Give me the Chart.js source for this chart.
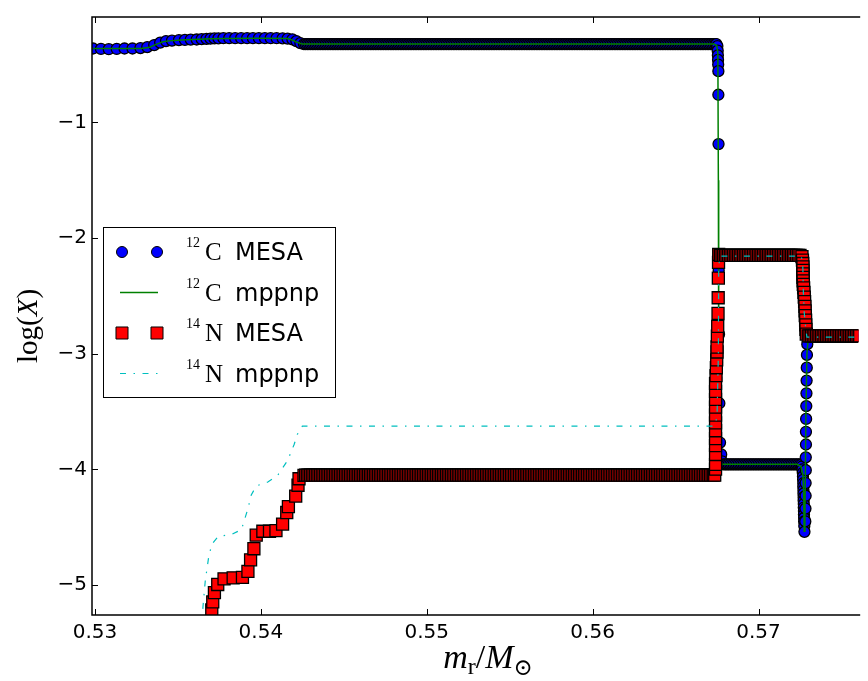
<!DOCTYPE html>
<html>
<head>
    <title>12C and 14N profiles</title>
    <script src="https://cdn.jsdelivr.net/npm/chart.js"></script>
    <style>
        html, body {
            margin: 0;
            padding: 0;
            background: #fff;
            overflow: hidden;
        }
        #chartContainer {
            position: relative;
            width: 868px;
            height: 681px;
        }
    </style>
</head>
<body>
    <div id="chartContainer">
        <canvas id="myChart"></canvas>
    </div>

    <script>
        // 12C from the MESA model: [mass coordinate (Msun), log mass fraction]
        const c12Mesa = [
            [0.52988, -0.361], [0.53036, -0.365], [0.53083, -0.367], [0.53131, -0.365], [0.53178, -0.361],
            [0.53226, -0.361], [0.53274, -0.357], [0.53315, -0.349], [0.53357, -0.331], [0.53393, -0.310],
            [0.53428, -0.297], [0.53464, -0.293], [0.53506, -0.289], [0.53542, -0.287], [0.53577, -0.284],
            [0.53613, -0.283], [0.53643, -0.280], [0.53672, -0.278], [0.53696, -0.276], [0.53720, -0.274],
            [0.53744, -0.273], [0.53774, -0.272], [0.53809, -0.272], [0.53845, -0.272], [0.53881, -0.272],
            [0.53917, -0.272], [0.53952, -0.272], [0.53988, -0.272], [0.54024, -0.272], [0.54059, -0.272],
            [0.54095, -0.272], [0.54131, -0.273], [0.54161, -0.275], [0.54190, -0.282], [0.54214, -0.297],
            [0.54238, -0.314],
            // intershell plateau
            [0.5426, -0.323], [0.5427, -0.323], [0.5428, -0.323], [0.5429, -0.323], [0.5430, -0.323], [0.5431, -0.323], [0.5432, -0.323], [0.5433, -0.323], [0.5434, -0.323], [0.5435, -0.323],
            [0.5436, -0.323], [0.5437, -0.323], [0.5438, -0.323], [0.5439, -0.323], [0.5440, -0.323], [0.5441, -0.323], [0.5442, -0.323], [0.5443, -0.323], [0.5444, -0.323], [0.5445, -0.323],
            [0.5446, -0.323], [0.5447, -0.323], [0.5448, -0.323], [0.5449, -0.323], [0.5450, -0.323], [0.5451, -0.323], [0.5452, -0.323], [0.5453, -0.323], [0.5454, -0.323], [0.5455, -0.323],
            [0.5456, -0.323], [0.5457, -0.323], [0.5458, -0.323], [0.5459, -0.323], [0.5460, -0.323], [0.5461, -0.323], [0.5462, -0.323], [0.5463, -0.323], [0.5464, -0.323], [0.5465, -0.323],
            [0.5466, -0.323], [0.5467, -0.323], [0.5468, -0.323], [0.5469, -0.323], [0.5470, -0.323], [0.5471, -0.323], [0.5472, -0.323], [0.5473, -0.323], [0.5474, -0.323], [0.5475, -0.323],
            [0.5476, -0.323], [0.5477, -0.323], [0.5478, -0.323], [0.5479, -0.323], [0.5480, -0.323], [0.5481, -0.323], [0.5482, -0.323], [0.5483, -0.323], [0.5484, -0.323], [0.5485, -0.323],
            [0.5486, -0.323], [0.5487, -0.323], [0.5488, -0.323], [0.5489, -0.323], [0.5490, -0.323], [0.5491, -0.323], [0.5492, -0.323], [0.5493, -0.323], [0.5494, -0.323], [0.5495, -0.323],
            [0.5496, -0.323], [0.5497, -0.323], [0.5498, -0.323], [0.5499, -0.323], [0.5500, -0.323], [0.5501, -0.323], [0.5502, -0.323], [0.5503, -0.323], [0.5504, -0.323], [0.5505, -0.323],
            [0.5506, -0.323], [0.5507, -0.323], [0.5508, -0.323], [0.5509, -0.323], [0.5510, -0.323], [0.5511, -0.323], [0.5512, -0.323], [0.5513, -0.323], [0.5514, -0.323], [0.5515, -0.323],
            [0.5516, -0.323], [0.5517, -0.323], [0.5518, -0.323], [0.5519, -0.323], [0.5520, -0.323], [0.5521, -0.323], [0.5522, -0.323], [0.5523, -0.323], [0.5524, -0.323], [0.5525, -0.323],
            [0.5526, -0.323], [0.5527, -0.323], [0.5528, -0.323], [0.5529, -0.323], [0.5530, -0.323], [0.5531, -0.323], [0.5532, -0.323], [0.5533, -0.323], [0.5534, -0.323], [0.5535, -0.323],
            [0.5536, -0.323], [0.5537, -0.323], [0.5538, -0.323], [0.5539, -0.323], [0.5540, -0.323], [0.5541, -0.323], [0.5542, -0.323], [0.5543, -0.323], [0.5544, -0.323], [0.5545, -0.323],
            [0.5546, -0.323], [0.5547, -0.323], [0.5548, -0.323], [0.5549, -0.323], [0.5550, -0.323], [0.5551, -0.323], [0.5552, -0.323], [0.5553, -0.323], [0.5554, -0.323], [0.5555, -0.323],
            [0.5556, -0.323], [0.5557, -0.323], [0.5558, -0.323], [0.5559, -0.323], [0.5560, -0.323], [0.5561, -0.323], [0.5562, -0.323], [0.5563, -0.323], [0.5564, -0.323], [0.5565, -0.323],
            [0.5566, -0.323], [0.5567, -0.323], [0.5568, -0.323], [0.5569, -0.323], [0.5570, -0.323], [0.5571, -0.323], [0.5572, -0.323], [0.5573, -0.323], [0.5574, -0.323], [0.5575, -0.323],
            [0.5576, -0.323], [0.5577, -0.323], [0.5578, -0.323], [0.5579, -0.323], [0.5580, -0.323], [0.5581, -0.323], [0.5582, -0.323], [0.5583, -0.323], [0.5584, -0.323], [0.5585, -0.323],
            [0.5586, -0.323], [0.5587, -0.323], [0.5588, -0.323], [0.5589, -0.323], [0.5590, -0.323], [0.5591, -0.323], [0.5592, -0.323], [0.5593, -0.323], [0.5594, -0.323], [0.5595, -0.323],
            [0.5596, -0.323], [0.5597, -0.323], [0.5598, -0.323], [0.5599, -0.323], [0.5600, -0.323], [0.5601, -0.323], [0.5602, -0.323], [0.5603, -0.323], [0.5604, -0.323], [0.5605, -0.323],
            [0.5606, -0.323], [0.5607, -0.323], [0.5608, -0.323], [0.5609, -0.323], [0.5610, -0.323], [0.5611, -0.323], [0.5612, -0.323], [0.5613, -0.323], [0.5614, -0.323], [0.5615, -0.323],
            [0.5616, -0.323], [0.5617, -0.323], [0.5618, -0.323], [0.5619, -0.323], [0.5620, -0.323], [0.5621, -0.323], [0.5622, -0.323], [0.5623, -0.323], [0.5624, -0.323], [0.5625, -0.323],
            [0.5626, -0.323], [0.5627, -0.323], [0.5628, -0.323], [0.5629, -0.323], [0.5630, -0.323], [0.5631, -0.323], [0.5632, -0.323], [0.5633, -0.323], [0.5634, -0.323], [0.5635, -0.323],
            [0.5636, -0.323], [0.5637, -0.323], [0.5638, -0.323], [0.5639, -0.323], [0.5640, -0.323], [0.5641, -0.323], [0.5642, -0.323], [0.5643, -0.323], [0.5644, -0.323], [0.5645, -0.323],
            [0.5646, -0.323], [0.5647, -0.323], [0.5648, -0.323], [0.5649, -0.323], [0.5650, -0.323], [0.5651, -0.323], [0.5652, -0.323], [0.5653, -0.323], [0.5654, -0.323], [0.5655, -0.323],
            [0.5656, -0.323], [0.5657, -0.323], [0.5658, -0.323], [0.5659, -0.323], [0.5660, -0.323], [0.5661, -0.323], [0.5662, -0.323], [0.5663, -0.323], [0.5664, -0.323], [0.5665, -0.323],
            [0.5666, -0.323], [0.5667, -0.323], [0.5668, -0.323], [0.5669, -0.323], [0.5670, -0.323], [0.5671, -0.323], [0.5672, -0.323], [0.56730, -0.323], [0.56740, -0.323], [0.56746, -0.323],
            // drop at the base of the H shell
            [0.56752, -0.340], [0.56754, -0.380], [0.56755, -0.420], [0.56756, -0.460], [0.56757, -0.500],
            [0.56758, -0.557], [0.56758, -0.761], [0.56759, -1.187], [0.56760, -2.278], [0.56762, -2.831],
            [0.56764, -3.428], [0.56768, -3.768], [0.56775, -3.871], [0.56780, -3.930],
            // H-burning ashes
            [0.5679, -3.956], [0.5680, -3.956], [0.5681, -3.956], [0.5682, -3.956], [0.5683, -3.956], [0.5684, -3.956], [0.5685, -3.956], [0.5686, -3.956], [0.5687, -3.956], [0.5688, -3.956],
            [0.5689, -3.956], [0.5690, -3.956], [0.5691, -3.956], [0.5692, -3.956], [0.5693, -3.956], [0.5694, -3.956], [0.5695, -3.956], [0.5696, -3.956], [0.5697, -3.956], [0.5698, -3.956],
            [0.5699, -3.956], [0.5700, -3.956], [0.5701, -3.956], [0.5702, -3.956], [0.5703, -3.956], [0.5704, -3.956], [0.5705, -3.956], [0.5706, -3.956], [0.5707, -3.956], [0.5708, -3.956],
            [0.5709, -3.956], [0.5710, -3.956], [0.5711, -3.956], [0.5712, -3.956], [0.5713, -3.956], [0.5714, -3.956], [0.5715, -3.956], [0.5716, -3.956], [0.5717, -3.956], [0.5718, -3.956],
            [0.5719, -3.956], [0.5720, -3.956], [0.5721, -3.956], [0.5722, -3.956], [0.5723, -3.956], [0.5724, -3.956], [0.5725, -3.956],
            // dip at the H-burning shell
            [0.57258, -3.960], [0.57262, -3.975], [0.57265, -4.000], [0.57267, -4.030], [0.57268, -4.060],
            [0.57269, -4.090], [0.57270, -4.120], [0.57270, -4.150], [0.57271, -4.180], [0.57271, -4.210],
            [0.57272, -4.240], [0.57272, -4.270], [0.57273, -4.300], [0.57273, -4.330], [0.57274, -4.360],
            [0.57274, -4.390], [0.57275, -4.420], [0.57275, -4.450], [0.57276, -4.490], [0.57277, -4.540],
            [0.57282, -4.450], [0.57283, -4.339], [0.57284, -4.228], [0.57284, -4.118], [0.57285, -4.007],
            [0.57285, -3.896], [0.57286, -3.785], [0.57286, -3.675], [0.57287, -3.564], [0.57288, -3.453],
            [0.57289, -3.342], [0.57290, -3.232], [0.57291, -3.121], [0.57292, -3.010], [0.57294, -2.917],
            // envelope
            [0.5730, -2.845], [0.5731, -2.845], [0.5732, -2.845], [0.5733, -2.845], [0.5734, -2.845], [0.5735, -2.845], [0.5736, -2.845], [0.5737, -2.845], [0.5738, -2.845], [0.5739, -2.845],
            [0.5740, -2.845], [0.5741, -2.845], [0.5742, -2.845], [0.5743, -2.845], [0.5744, -2.845], [0.5745, -2.845], [0.5746, -2.845], [0.5747, -2.845], [0.5748, -2.845], [0.5749, -2.845],
            [0.5750, -2.845], [0.5751, -2.845], [0.5752, -2.845], [0.5753, -2.845], [0.5754, -2.845], [0.5755, -2.845], [0.5756, -2.845], [0.5757, -2.845], [0.5758, -2.845], [0.5759, -2.845],
            [0.5760, -2.845], [0.5761, -2.845], [0.5762, -2.845]
        ];

        // 12C from the mppnp post-processing run
        const c12Mppnp = [
            [0.52982, -0.361], [0.53280, -0.361], [0.53330, -0.350], [0.53369, -0.325], [0.53410, -0.303],
            [0.53446, -0.295], [0.53520, -0.288], [0.53583, -0.283], [0.53702, -0.277], [0.53786, -0.274],
            [0.54000, -0.273], [0.54161, -0.274], [0.54185, -0.285], [0.54214, -0.305], [0.54250, -0.323],
            [0.56732, -0.323], [0.56748, -0.335], [0.56755, -0.400], [0.56758, -1.500], [0.56760, -3.000],
            [0.56762, -3.900], [0.56768, -3.950], [0.56780, -3.956], [0.57234, -3.956], [0.57256, -3.975],
            [0.57268, -4.050], [0.57272, -4.200], [0.57275, -4.535], [0.57280, -4.400], [0.57286, -3.500],
            [0.57292, -3.000], [0.57298, -2.900], [0.57310, -2.850], [0.57601, -2.845]
        ];

        // 14N from the MESA model
        const n14Mesa = [
            [0.53699, -5.344], [0.53704, -5.216], [0.53710, -5.146], [0.53720, -5.066], [0.53740, -4.995],
            [0.53778, -4.946], [0.53833, -4.938], [0.53889, -4.933], [0.53922, -4.882], [0.53938, -4.782],
            [0.53958, -4.686], [0.53972, -4.569], [0.54012, -4.535], [0.54052, -4.535], [0.54091, -4.529],
            [0.54131, -4.473], [0.54156, -4.373], [0.54166, -4.322], [0.54210, -4.231], [0.54224, -4.137],
            [0.54230, -4.081], [0.54260, -4.052],
            // intershell plateau
            [0.5427, -4.050], [0.5428, -4.050], [0.5429, -4.050], [0.5430, -4.050], [0.5431, -4.050], [0.5432, -4.050], [0.5433, -4.050], [0.5434, -4.050], [0.5435, -4.050], [0.5436, -4.050],
            [0.5437, -4.050], [0.5438, -4.050], [0.5439, -4.050], [0.5440, -4.050], [0.5441, -4.050], [0.5442, -4.050], [0.5443, -4.050], [0.5444, -4.050], [0.5445, -4.050], [0.5446, -4.050],
            [0.5447, -4.050], [0.5448, -4.050], [0.5449, -4.050], [0.5450, -4.050], [0.5451, -4.050], [0.5452, -4.050], [0.5453, -4.050], [0.5454, -4.050], [0.5455, -4.050], [0.5456, -4.050],
            [0.5457, -4.050], [0.5458, -4.050], [0.5459, -4.050], [0.5460, -4.050], [0.5461, -4.050], [0.5462, -4.050], [0.5463, -4.050], [0.5464, -4.050], [0.5465, -4.050], [0.5466, -4.050],
            [0.5467, -4.050], [0.5468, -4.050], [0.5469, -4.050], [0.5470, -4.050], [0.5471, -4.050], [0.5472, -4.050], [0.5473, -4.050], [0.5474, -4.050], [0.5475, -4.050], [0.5476, -4.050],
            [0.5477, -4.050], [0.5478, -4.050], [0.5479, -4.050], [0.5480, -4.050], [0.5481, -4.050], [0.5482, -4.050], [0.5483, -4.050], [0.5484, -4.050], [0.5485, -4.050], [0.5486, -4.050],
            [0.5487, -4.050], [0.5488, -4.050], [0.5489, -4.050], [0.5490, -4.050], [0.5491, -4.050], [0.5492, -4.050], [0.5493, -4.050], [0.5494, -4.050], [0.5495, -4.050], [0.5496, -4.050],
            [0.5497, -4.050], [0.5498, -4.050], [0.5499, -4.050], [0.5500, -4.050], [0.5501, -4.050], [0.5502, -4.050], [0.5503, -4.050], [0.5504, -4.050], [0.5505, -4.050], [0.5506, -4.050],
            [0.5507, -4.050], [0.5508, -4.050], [0.5509, -4.050], [0.5510, -4.050], [0.5511, -4.050], [0.5512, -4.050], [0.5513, -4.050], [0.5514, -4.050], [0.5515, -4.050], [0.5516, -4.050],
            [0.5517, -4.050], [0.5518, -4.050], [0.5519, -4.050], [0.5520, -4.050], [0.5521, -4.050], [0.5522, -4.050], [0.5523, -4.050], [0.5524, -4.050], [0.5525, -4.050], [0.5526, -4.050],
            [0.5527, -4.050], [0.5528, -4.050], [0.5529, -4.050], [0.5530, -4.050], [0.5531, -4.050], [0.5532, -4.050], [0.5533, -4.050], [0.5534, -4.050], [0.5535, -4.050], [0.5536, -4.050],
            [0.5537, -4.050], [0.5538, -4.050], [0.5539, -4.050], [0.5540, -4.050], [0.5541, -4.050], [0.5542, -4.050], [0.5543, -4.050], [0.5544, -4.050], [0.5545, -4.050], [0.5546, -4.050],
            [0.5547, -4.050], [0.5548, -4.050], [0.5549, -4.050], [0.5550, -4.050], [0.5551, -4.050], [0.5552, -4.050], [0.5553, -4.050], [0.5554, -4.050], [0.5555, -4.050], [0.5556, -4.050],
            [0.5557, -4.050], [0.5558, -4.050], [0.5559, -4.050], [0.5560, -4.050], [0.5561, -4.050], [0.5562, -4.050], [0.5563, -4.050], [0.5564, -4.050], [0.5565, -4.050], [0.5566, -4.050],
            [0.5567, -4.050], [0.5568, -4.050], [0.5569, -4.050], [0.5570, -4.050], [0.5571, -4.050], [0.5572, -4.050], [0.5573, -4.050], [0.5574, -4.050], [0.5575, -4.050], [0.5576, -4.050],
            [0.5577, -4.050], [0.5578, -4.050], [0.5579, -4.050], [0.5580, -4.050], [0.5581, -4.050], [0.5582, -4.050], [0.5583, -4.050], [0.5584, -4.050], [0.5585, -4.050], [0.5586, -4.050],
            [0.5587, -4.050], [0.5588, -4.050], [0.5589, -4.050], [0.5590, -4.050], [0.5591, -4.050], [0.5592, -4.050], [0.5593, -4.050], [0.5594, -4.050], [0.5595, -4.050], [0.5596, -4.050],
            [0.5597, -4.050], [0.5598, -4.050], [0.5599, -4.050], [0.5600, -4.050], [0.5601, -4.050], [0.5602, -4.050], [0.5603, -4.050], [0.5604, -4.050], [0.5605, -4.050], [0.5606, -4.050],
            [0.5607, -4.050], [0.5608, -4.050], [0.5609, -4.050], [0.5610, -4.050], [0.5611, -4.050], [0.5612, -4.050], [0.5613, -4.050], [0.5614, -4.050], [0.5615, -4.050], [0.5616, -4.050],
            [0.5617, -4.050], [0.5618, -4.050], [0.5619, -4.050], [0.5620, -4.050], [0.5621, -4.050], [0.5622, -4.050], [0.5623, -4.050], [0.5624, -4.050], [0.5625, -4.050], [0.5626, -4.050],
            [0.5627, -4.050], [0.5628, -4.050], [0.5629, -4.050], [0.5630, -4.050], [0.5631, -4.050], [0.5632, -4.050], [0.5633, -4.050], [0.5634, -4.050], [0.5635, -4.050], [0.5636, -4.050],
            [0.5637, -4.050], [0.5638, -4.050], [0.5639, -4.050], [0.5640, -4.050], [0.5641, -4.050], [0.5642, -4.050], [0.5643, -4.050], [0.5644, -4.050], [0.5645, -4.050], [0.5646, -4.050],
            [0.5647, -4.050], [0.5648, -4.050], [0.5649, -4.050], [0.5650, -4.050], [0.5651, -4.050], [0.5652, -4.050], [0.5653, -4.050], [0.5654, -4.050], [0.5655, -4.050], [0.5656, -4.050],
            [0.5657, -4.050], [0.5658, -4.050], [0.5659, -4.050], [0.5660, -4.050], [0.5661, -4.050], [0.5662, -4.050], [0.5663, -4.050], [0.5664, -4.050], [0.5665, -4.050], [0.5666, -4.050],
            [0.5667, -4.050], [0.5668, -4.050], [0.5669, -4.050], [0.5670, -4.050], [0.5671, -4.050], [0.5672, -4.050], [0.56730, -4.050], [0.56736, -4.050],
            // rise into the H-burning ashes
            [0.56741, -3.998], [0.56741, -3.956], [0.56741, -3.871], [0.56741, -3.794], [0.56741, -3.734],
            [0.56741, -3.666], [0.56741, -3.598], [0.56741, -3.530], [0.56741, -3.462], [0.56741, -3.394],
            [0.56741, -3.325], [0.56741, -3.257], [0.56744, -3.189], [0.56746, -3.121], [0.56748, -3.053],
            [0.56750, -2.985], [0.56750, -2.942], [0.56752, -2.848], [0.56754, -2.763], [0.56756, -2.652],
            [0.56757, -2.516], [0.56758, -2.346], [0.56759, -2.210], [0.56760, -2.141],
            // H-burning ashes
            [0.5677, -2.150], [0.5678, -2.150], [0.5679, -2.150], [0.5680, -2.150], [0.5681, -2.150], [0.5682, -2.150], [0.5683, -2.150], [0.5684, -2.150], [0.5685, -2.150], [0.5686, -2.150],
            [0.5687, -2.150], [0.5688, -2.150], [0.5689, -2.150], [0.5690, -2.150], [0.5691, -2.150], [0.5692, -2.150], [0.5693, -2.150], [0.5694, -2.150], [0.5695, -2.150], [0.5696, -2.150],
            [0.5697, -2.150], [0.5698, -2.150], [0.5699, -2.150], [0.5700, -2.150], [0.5701, -2.150], [0.5702, -2.150], [0.5703, -2.150], [0.5704, -2.150], [0.5705, -2.150], [0.5706, -2.150],
            [0.5707, -2.150], [0.5708, -2.150], [0.5709, -2.150], [0.5710, -2.150], [0.5711, -2.150], [0.5712, -2.150], [0.5713, -2.150], [0.5714, -2.150], [0.5715, -2.150], [0.5716, -2.150],
            [0.5717, -2.150], [0.5718, -2.150], [0.5719, -2.150], [0.5720, -2.150], [0.5721, -2.150], [0.5722, -2.150], [0.5723, -2.150], [0.5724, -2.150], [0.5725, -2.150],
            // drop to the envelope value
            [0.57262, -2.160], [0.57265, -2.190], [0.57267, -2.220], [0.57268, -2.250], [0.57268, -2.280],
            [0.57268, -2.310], [0.57268, -2.340], [0.57269, -2.370], [0.57270, -2.400], [0.57272, -2.430],
            [0.57274, -2.470], [0.57276, -2.510], [0.57278, -2.550], [0.57280, -2.590], [0.57281, -2.630],
            [0.57282, -2.670], [0.57284, -2.710], [0.57285, -2.750], [0.57286, -2.790], [0.57288, -2.830],
            // envelope
            [0.5730, -2.845], [0.5731, -2.845], [0.5732, -2.845], [0.5733, -2.845], [0.5734, -2.845], [0.5735, -2.845], [0.5736, -2.845], [0.5737, -2.845], [0.5738, -2.845], [0.5739, -2.845],
            [0.5740, -2.845], [0.5741, -2.845], [0.5742, -2.845], [0.5743, -2.845], [0.5744, -2.845], [0.5745, -2.845], [0.5746, -2.845], [0.5747, -2.845], [0.5748, -2.845], [0.5749, -2.845],
            [0.5750, -2.845], [0.5751, -2.845], [0.5752, -2.845], [0.5753, -2.845], [0.5754, -2.845], [0.5755, -2.845], [0.5756, -2.845], [0.5757, -2.845], [0.5758, -2.845], [0.5759, -2.845],
            [0.5760, -2.845], [0.5761, -2.845], [0.5762, -2.845]
        ];

        // 14N from the mppnp post-processing run
        const n14Mppnp = [
            [0.53640, -5.400], [0.53651, -5.188], [0.53665, -4.961], [0.53685, -4.762], [0.53704, -4.648],
            [0.53744, -4.578], [0.53823, -4.563], [0.53883, -4.520], [0.53923, -4.336], [0.53942, -4.222],
            [0.53972, -4.143], [0.54042, -4.109], [0.54101, -4.052], [0.54161, -3.924], [0.54201, -3.783],
            [0.54220, -3.697], [0.54250, -3.626], [0.56732, -3.626], [0.56750, -3.550], [0.56758, -3.000],
            [0.56760, -2.300], [0.56765, -2.156], [0.57256, -2.156], [0.57266, -2.200], [0.57268, -2.300],
            [0.57270, -2.450], [0.57276, -2.650], [0.57286, -2.800], [0.57292, -2.857], [0.57601, -2.857]
        ];

        // axis ticks
        const xTicks = [0.53, 0.54, 0.55, 0.56, 0.57];
        const xTickLabels = ['0.53', '0.54', '0.55', '0.56', '0.57'];
        const yTicks = [-5, -4, -3, -2, -1];
        const yTickLabels = ['\u22125', '\u22124', '\u22123', '\u22122', '\u22121'];

        // legend text pieces: isotope mass number, element, code
        const legendMass = ['12', '12', '14', '14'];
        const legendElement = ['C', 'C', 'N', 'N'];
        const legendCode = ['MESA', 'mppnp', 'MESA', 'mppnp'];

        const SERIF = '"Liberation Serif", "DejaVu Serif", serif';
        const SANS = '"DejaVu Sans", sans-serif';

        const pts = rows => rows.map(r => ({ x: r[0], y: r[1] }));

        // draws a row of text pieces with their own fonts, returns the width
        function drawRuns(ctx, runs, x, baseline, measureOnly) {
            let cx = x;
            runs.forEach(r => {
                ctx.font = r.font;
                if (!measureOnly) ctx.fillText(r.text, cx, baseline + (r.dy || 0));
                cx += ctx.measureText(r.text).width;
            });
            return cx - x;
        }

        // spines and inward ticks, drawn over the data
        const frame = {
            id: 'frame',
            afterDatasetsDraw(chart) {
                const { ctx, chartArea: a, scales } = chart;
                ctx.save();
                ctx.strokeStyle = '#000';
                ctx.lineWidth = 1;
                ctx.beginPath();
                xTicks.forEach(v => {
                    const p = Math.round(scales.x.getPixelForValue(v)) + 0.5;
                    ctx.moveTo(p, a.bottom);
                    ctx.lineTo(p, a.bottom - 6);
                    ctx.moveTo(p, a.top);
                    ctx.lineTo(p, a.top + 6);
                });
                yTicks.forEach(v => {
                    const p = Math.round(scales.y.getPixelForValue(v)) + 0.5;
                    ctx.moveTo(a.left, p);
                    ctx.lineTo(a.left + 6, p);
                });
                ctx.stroke();
                ctx.lineWidth = 1.5;
                ctx.beginPath();
                ctx.moveTo(a.right + 2, a.top);
                ctx.lineTo(a.left, a.top);
                ctx.lineTo(a.left, a.bottom);
                ctx.lineTo(a.right + 2, a.bottom);
                ctx.stroke();
                ctx.restore();
            }
        };

        // legend box and axis titles
        const annotations = {
            id: 'annotations',
            afterDraw(chart) {
                const ctx = chart.ctx;
                ctx.save();
                ctx.fillStyle = '#000';
                ctx.textBaseline = 'alphabetic';
                ctx.textAlign = 'left';

                // x title: m_r / M_sun
                const xRuns = [
                    { text: 'm', font: 'italic 34px ' + SERIF },
                    { text: 'r', font: '24px ' + SERIF, dy: 6 },
                    { text: '/', font: '34px ' + SERIF },
                    { text: 'M', font: 'italic 34px ' + SERIF },
                    { text: '\u2299', font: '23px "DejaVu Serif", serif', dy: 7 }
                ];
                const xw = drawRuns(ctx, xRuns, 0, 0, true);
                drawRuns(ctx, xRuns, 488 - xw / 2, 668);

                // y title: log(X)
                const yRuns = [
                    { text: 'log', font: '29px ' + SERIF },
                    { text: '(', font: '29px ' + SERIF },
                    { text: 'X', font: 'italic 29px ' + SERIF },
                    { text: ')', font: '29px ' + SERIF }
                ];
                const yw = drawRuns(ctx, yRuns, 0, 0, true);
                ctx.save();
                ctx.translate(37, 326);
                ctx.rotate(-Math.PI / 2);
                drawRuns(ctx, yRuns, -yw / 2, 0);
                ctx.restore();

                // legend
                const bx = 103, by = 227, bw = 232, bh = 170;
                ctx.fillStyle = '#fff';
                ctx.fillRect(bx, by, bw, bh);
                ctx.strokeStyle = '#000';
                ctx.lineWidth = 1;
                ctx.strokeRect(bx + 0.5, by + 0.5, bw, bh);

                chart.data.datasets.forEach((ds, i) => {
                    const cy = 252 + i * 40.5;
                    if (ds.showLine) {
                        ctx.save();
                        ctx.strokeStyle = ds.borderColor;
                        ctx.lineWidth = ds.borderWidth;
                        ctx.setLineDash(ds.borderDash || []);
                        ctx.beginPath();
                        ctx.moveTo(120, cy);
                        ctx.lineTo(158, cy);
                        ctx.stroke();
                        ctx.restore();
                    } else {
                        [122, 157].forEach(mx => {
                            ctx.fillStyle = ds.pointBackgroundColor;
                            ctx.strokeStyle = ds.pointBorderColor;
                            ctx.lineWidth = 1;
                            ctx.beginPath();
                            if (ds.pointStyle === 'rect') {
                                const h = ds.pointRadius * Math.SQRT1_2;
                                ctx.rect(mx - h, cy - h, 2 * h, 2 * h);
                            } else {
                                ctx.arc(mx, cy, ds.pointRadius, 0, Math.PI * 2);
                            }
                            ctx.fill();
                            ctx.stroke();
                        });
                    }
                    ctx.fillStyle = '#000';
                    ctx.font = '14px ' + SERIF;
                    ctx.fillText(legendMass[i], 186, cy - 5);
                    ctx.font = '25px ' + SERIF;
                    ctx.fillText(legendElement[i], 205, cy + 8);
                    ctx.font = '24px ' + SANS;
                    ctx.fillText(legendCode[i], 235, cy + 8);
                });
                ctx.restore();
            }
        };

        Chart.defaults.font.family = SANS;
        Chart.defaults.font.size = 20;
        Chart.defaults.color = '#000';

        const ctx = document.getElementById('myChart').getContext('2d');
        new Chart(ctx, {
            type: 'scatter',
            data: {
                datasets: [
                    {
                        label: '12C MESA',
                        data: pts(c12Mesa),
                        showLine: false,
                        pointStyle: 'circle',
                        pointRadius: 5.5,
                        pointBackgroundColor: '#0000ff',
                        pointBorderColor: '#000000',
                        pointBorderWidth: 1.3,
                        order: 4,
                        clip: 0
                    },
                    {
                        label: '12C mppnp',
                        data: pts(c12Mppnp),
                        showLine: true,
                        borderColor: '#008000',
                        borderWidth: 1.5,
                        pointRadius: 0,
                        tension: 0,
                        order: 3,
                        clip: 0
                    },
                    {
                        label: '14N MESA',
                        data: pts(n14Mesa),
                        showLine: false,
                        pointStyle: 'rect',
                        pointRadius: 8.5,
                        pointBackgroundColor: '#ff0000',
                        pointBorderColor: '#000000',
                        pointBorderWidth: 1.3,
                        order: 2,
                        clip: 0
                    },
                    {
                        label: '14N mppnp',
                        data: pts(n14Mppnp),
                        showLine: true,
                        borderColor: '#00bfbf',
                        borderWidth: 1.2,
                        borderDash: [6, 7.5, 1.5, 7.5],
                        pointRadius: 0,
                        tension: 0,
                        order: 1,
                        clip: 0
                    }
                ]
            },
            options: {
                responsive: true,
                maintainAspectRatio: false,
                animation: false,
                events: [],
                layout: { padding: { top: 8, right: 0, bottom: 0, left: 0 } },
                plugins: {
                    legend: { display: false },
                    tooltip: { enabled: false }
                },
                scales: {
                    x: {
                        type: 'linear',
                        bounds: 'data',
                        min: 0.52982,
                        max: 0.57601,
                        grid: { display: false, drawTicks: false },
                        border: { display: false },
                        ticks: {
                            padding: 6,
                            autoSkip: false,
                            maxRotation: 0,
                            callback: (v, i) => xTickLabels[i]
                        },
                        afterBuildTicks: s => { s.ticks = xTicks.map(v => ({ value: v })); },
                        afterFit: s => { s.height = 66; }
                    },
                    y: {
                        type: 'linear',
                        bounds: 'data',
                        min: -5.259,
                        max: -0.0886,
                        grid: { display: false, drawTicks: false },
                        border: { display: false },
                        ticks: {
                            padding: 5,
                            autoSkip: false,
                            callback: (v, i) => yTickLabels[i]
                        },
                        afterBuildTicks: s => { s.ticks = yTicks.map(v => ({ value: v })); },
                        afterFit: s => { s.width = 92; }
                    }
                }
            },
            plugins: [frame, annotations]
        });
    </script>
</body>
</html>
